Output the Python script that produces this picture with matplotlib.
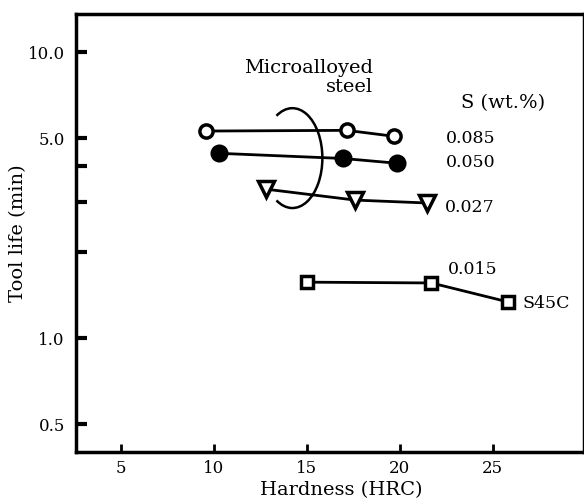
import matplotlib
matplotlib.use("Agg")
import matplotlib.pyplot as plt
from matplotlib.patches import Arc

plt.rcParams['font.family'] = ['DejaVu Serif']

# Data (hardness HRC, tool life min)
hard_085 = [9.6, 17.15, 19.7]
life_085 = [5.3, 5.33, 5.08]
hard_050 = [10.3, 16.95, 19.85]
life_050 = [4.43, 4.25, 4.09]
hard_027 = [12.8, 17.6, 21.45]
life_027 = [3.32, 3.04, 2.97]
hard_015 = [15.0, 21.7, 25.8]
life_015 = [1.57, 1.56, 1.34]

x_ticks = [5, 10, 15, 20, 25]
y_ticks = [0.5, 1.0, 2.0, 3.0, 4.0, 5.0, 10.0]
y_ticklabels = ['0.5', '1.0', '', '', '', '5.0', '10.0']

fig = plt.figure(figsize=(5.84, 5.04), dpi=100)
ax = fig.add_axes([76/584, 52/504, 508/584, 438/504])

lw = 2.0
mew = 2.5
ax.plot(hard_085, life_085, color='black', lw=lw, marker='o', ms=9.5,
        mfc='white', mec='black', mew=mew)
ax.plot(hard_050, life_050, color='black', lw=lw, marker='o', ms=10.5,
        mfc='black', mec='black', mew=mew)
ax.plot(hard_027, life_027, color='black', lw=lw, marker='v', ms=11.5,
        mfc='white', mec='black', mew=mew)
ax.plot(hard_015, life_015, color='black', lw=lw, marker='s', ms=8.5,
        mfc='white', mec='black', mew=mew)

ax.set_yscale('log')
ax.set_xlim(2.6, 29.9)
ax.set_ylim(0.4, 13.6)
ax.set_xticks(x_ticks)
ax.set_xticklabels([str(t) for t in x_ticks])
ax.set_yticks(y_ticks)
ax.set_yticklabels(y_ticklabels)
ax.minorticks_off()

ax.tick_params(axis='y', direction='in', length=8, width=3, labelsize=12, pad=8)
ax.tick_params(axis='x', direction='in', length=6, width=2, labelsize=12, pad=6)

for s in ['left', 'bottom', 'top', 'right']:
    ax.spines[s].set_linewidth(2.5)

ax.set_xlabel('Hardness (HRC)', fontsize=14)
ax.set_ylabel('Tool life (min)', fontsize=14)
ax.xaxis.set_label_coords(0.523, -0.066)
ax.yaxis.set_label_coords(-0.097, 0.5)

fs = 12.5
ax.text(0.584, 0.812, 'Microalloyed\nsteel', transform=ax.transAxes,
        ha='right', va='bottom', fontsize=14, multialignment='right', linespacing=1.12)
ax.text(0.757, 0.797, 'S (wt.%)', transform=ax.transAxes, ha='left', va='center', fontsize=14)
ax.text(0.728, 0.715, '0.085', transform=ax.transAxes, ha='left', va='center', fontsize=fs)
ax.text(0.728, 0.662, '0.050', transform=ax.transAxes, ha='left', va='center', fontsize=fs)
ax.text(0.726, 0.559, '0.027', transform=ax.transAxes, ha='left', va='center', fontsize=fs)
ax.text(0.732, 0.416, '0.015', transform=ax.transAxes, ha='left', va='center', fontsize=fs)
ax.text(0.878, 0.340, 'S45C', transform=ax.transAxes, ha='left', va='center', fontsize=fs)

arc = Arc((0.426, 0.671), 0.118, 0.228, theta1=-108, theta2=108,
          transform=ax.transAxes, color='black', lw=1.8)
ax.add_patch(arc)

fig.savefig('out.png', dpi=100)
